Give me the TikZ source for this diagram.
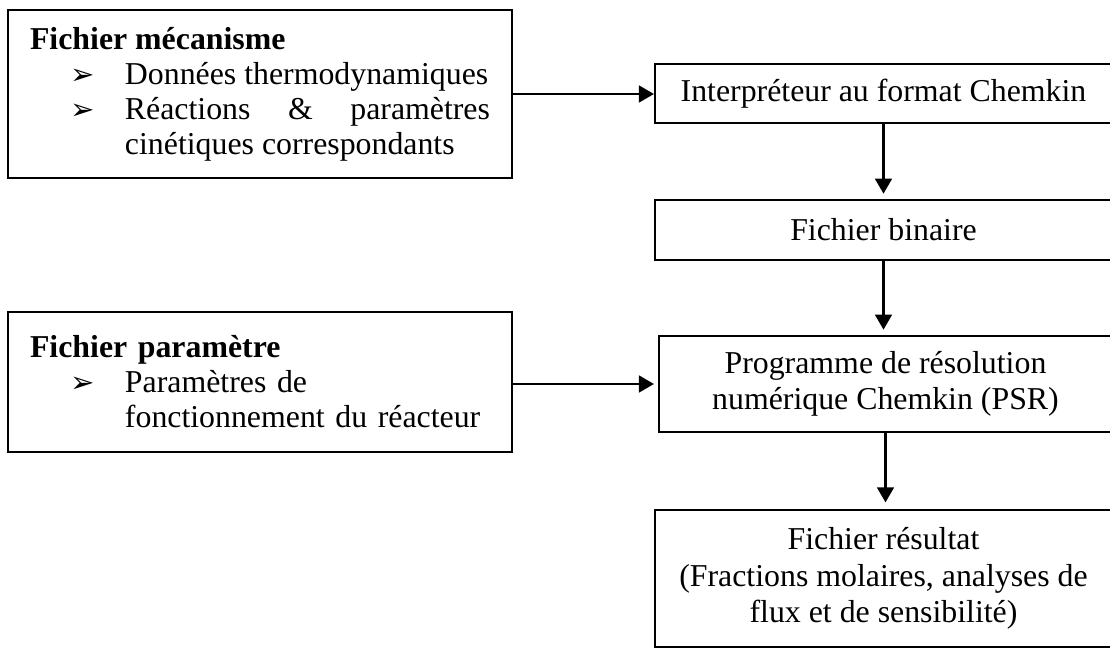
\documentclass[tikz,border=0pt]{standalone}
\usepackage{fontspec}
\setmainfont{Liberation Serif}
\newfontfamily\dejavu{DejaVu Sans}
\usetikzlibrary{arrows.meta,positioning,calc}
\setlength{\parindent}{0pt}
\hyphenpenalty=10000
\tolerance=10000
\newcommand{\puce}{\leavevmode\llap{\makebox[20.7pt][l]{\dejavu\fontsize{11}{11}\selectfont ➢}}}
\tikzset{
  filebox/.style ={draw=black, line width=0.75pt, text width=173.4pt,
                   inner xsep=8.3pt, inner ysep=0pt, minimum width=190pt,
                   font=\fontsize{12}{13.2}\selectfont},
  stepbox/.style ={draw=black, line width=0.75pt, align=center,
                   minimum width=172.3pt, inner sep=0pt,
                   font=\fontsize{12}{13.8}\selectfont},
  flowarr/.style ={-{Triangle[length=5.7pt,width=6.3pt]}, line width=1pt},
}

\begin{document}
\begin{tikzpicture}[x=0.377pt,y=-0.377pt]
    \path[fill=white,use as bounding box] (0,0) rectangle (1110,648);

    % Input files
    \node[filebox,align=justify,minimum height=63.3pt] (mech) at (260,94)
      {\textbf{Fichier mécanisme}\par
       {\leftskip=35.8pt
        \puce Données thermodynamiques\par
        \puce Réactions \& paramètres cinétiques correspondants\par}};
    \node[filebox,align=left,minimum height=52.8pt] (param) at (260,382)
      {\textbf{Fichier paramètre}\par
       {\leftskip=35.8pt
        \puce Paramètres de\\ fonctionnement du réacteur\par}};

    % Chemkin chain
    \node[stepbox,minimum height=22.2pt] (interp) at (883.5,93.5)
      {Interpréteur au format Chemkin};
    \node[stepbox,minimum height=22.6pt] (bin) at (883.5,230)
      {Fichier binaire};
    \node[stepbox,minimum width=170.8pt,minimum height=36.2pt] (prog) at (885.5,384)
      {Programme de résolution\\ numérique Chemkin (PSR)};
    \node[stepbox,minimum height=51.6pt] (res) at (883.5,578.5)
      {Fichier résultat\\ (Fractions molaires, analyses de\\ flux et de sensibilité)};

    \draw[flowarr] (mech.east) -- (mech.east -| interp.west);
    \draw[flowarr,shorten >=1.5pt] (prog.west -| param.east) -- (prog.west);
    \draw[flowarr,shorten >=2pt] (interp.south) -- (interp.south |- bin.north);
    \draw[flowarr,shorten >=2pt] (bin.south) -- (bin.south |- prog.north);
    \draw[flowarr,shorten >=2.5pt] (prog.south) -- (prog.south |- res.north);
\end{tikzpicture}
\end{document}
